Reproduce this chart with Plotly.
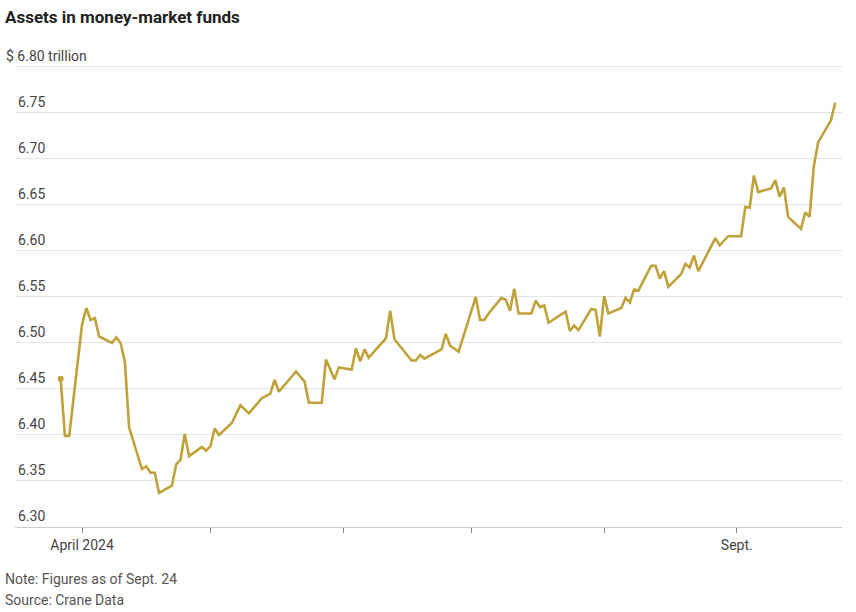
import plotly.graph_objects as go

dates = [
    "2024-03-27", "2024-03-28", "2024-03-29",
    "2024-04-01", "2024-04-02", "2024-04-03", "2024-04-04", "2024-04-05",
    "2024-04-08", "2024-04-09", "2024-04-10", "2024-04-11", "2024-04-12",
    "2024-04-15", "2024-04-16", "2024-04-17", "2024-04-18", "2024-04-19",
    "2024-04-22", "2024-04-23", "2024-04-24", "2024-04-25", "2024-04-26",
    "2024-04-29", "2024-04-30", "2024-05-01", "2024-05-02", "2024-05-03",
    "2024-05-06", "2024-05-08", "2024-05-10",
    "2024-05-13", "2024-05-15", "2024-05-16", "2024-05-17",
    "2024-05-21", "2024-05-23", "2024-05-24",
    "2024-05-27", "2024-05-28", "2024-05-30", "2024-05-31",
    "2024-06-03", "2024-06-04", "2024-06-05", "2024-06-06", "2024-06-07",
    "2024-06-11", "2024-06-12", "2024-06-13",
    "2024-06-17", "2024-06-18", "2024-06-19", "2024-06-20",
    "2024-06-24", "2024-06-25", "2024-06-26", "2024-06-28",
    "2024-07-02", "2024-07-03", "2024-07-04", "2024-07-05",
    "2024-07-08", "2024-07-09", "2024-07-10", "2024-07-11", "2024-07-12",
    "2024-07-15", "2024-07-16", "2024-07-17", "2024-07-18", "2024-07-19",
    "2024-07-23", "2024-07-24", "2024-07-25", "2024-07-26",
    "2024-07-29", "2024-07-30", "2024-07-31", "2024-08-01", "2024-08-02",
    "2024-08-05", "2024-08-06", "2024-08-07", "2024-08-08", "2024-08-09",
    "2024-08-12", "2024-08-13", "2024-08-14", "2024-08-15", "2024-08-16",
    "2024-08-19", "2024-08-20", "2024-08-21", "2024-08-22", "2024-08-23",
    "2024-08-27", "2024-08-28", "2024-08-30",
    "2024-09-02", "2024-09-03", "2024-09-04", "2024-09-05", "2024-09-06",
    "2024-09-09", "2024-09-10", "2024-09-11", "2024-09-12", "2024-09-13",
    "2024-09-16", "2024-09-17", "2024-09-18", "2024-09-19", "2024-09-20",
    "2024-09-23", "2024-09-24",
]

assets_trillion = [
    6.460, 6.398, 6.398,
    6.519, 6.537, 6.524, 6.526, 6.506,
    6.499, 6.505, 6.499, 6.479, 6.407,
    6.362, 6.365, 6.358, 6.358, 6.336,
    6.344, 6.367, 6.372, 6.400, 6.376,
    6.386, 6.382, 6.387, 6.406, 6.399,
    6.412, 6.4315, 6.4225,
    6.439, 6.444, 6.459, 6.446,
    6.468, 6.457, 6.434,
    6.434, 6.481, 6.4595, 6.4725,
    6.470, 6.493, 6.479, 6.492, 6.483,
    6.504, 6.534, 6.503,
    6.480, 6.480, 6.486, 6.482,
    6.492, 6.509, 6.496, 6.4895,
    6.549, 6.524, 6.524, 6.531,
    6.548, 6.546, 6.534, 6.558, 6.531,
    6.531, 6.545, 6.538, 6.540, 6.521,
    6.533, 6.512, 6.518, 6.513,
    6.536, 6.535, 6.506, 6.550, 6.531,
    6.537, 6.548, 6.543, 6.557, 6.556,
    6.583, 6.583, 6.569, 6.577, 6.560,
    6.574, 6.585, 6.581, 6.594, 6.577,
    6.613, 6.605, 6.615,
    6.615, 6.647, 6.646, 6.681, 6.663,
    6.667, 6.676, 6.658, 6.668, 6.636,
    6.623, 6.641, 6.636, 6.691, 6.717,
    6.741, 6.760,
]

y_tick_vals = [6.30, 6.35, 6.40, 6.45, 6.50, 6.55, 6.60, 6.65, 6.70, 6.75, 6.80]
y_tick_text = ["6.30", "6.35", "6.40", "6.45", "6.50", "6.55", "6.60", "6.65", "6.70", "6.75", ""]
y_top_label = "$ 6.80 trillion"

x_tick_vals = ["2024-04-01", "2024-05-01", "2024-06-01", "2024-07-01", "2024-08-01", "2024-09-01"]
x_tick_text = ["April 2024", "", "", "", "", "Sept."]

note_text = "Note: Figures as of Sept. 24"
source_text = "Source: Crane Data"

LINE = "#BFA23A"
FONT = "Roboto, sans-serif"

fig = go.Figure()
fig.add_trace(go.Scatter(
    x=dates, y=assets_trillion, mode="lines",
    line=dict(color=LINE, width=2.6), hoverinfo="skip", showlegend=False,
))
fig.add_trace(go.Scatter(
    x=dates[:1], y=assets_trillion[:1], mode="markers",
    marker=dict(color=LINE, size=6), hoverinfo="skip", showlegend=False,
))

fig.update_layout(
    width=856, height=612,
    margin=dict(l=15, r=14, t=43, b=85),
    paper_bgcolor="white", plot_bgcolor="white",
    font=dict(family=FONT, size=14, color="#444"),
    title=dict(
        text="<b>Assets in money-market funds</b>",
        x=0, xref="paper", xanchor="left",
        y=1, yref="container", yanchor="top",
        pad=dict(t=11, l=-10),
        font=dict(family=FONT, size=17, color="#222"),
    ),
    xaxis=dict(
        type="date",
        range=["2024-03-16 08:00", "2024-09-25 14:00"],
        tickmode="array", tickvals=x_tick_vals, ticktext=x_tick_text,
        ticks="outside", ticklen=5, tickcolor="#888", tickwidth=1,
        showgrid=False, showline=True, linecolor="#cccccc", linewidth=1,
        zeroline=False,
        tickfont=dict(family=FONT, size=14, color="#444"),
    ),
    yaxis=dict(
        range=[6.299, 6.825],
        tickmode="array", tickvals=y_tick_vals, ticktext=y_tick_text,
        ticklabelposition="inside top", ticks="",
        showgrid=True, gridcolor="#e3e3e3", gridwidth=1,
        zeroline=False, showline=False,
        tickfont=dict(family=FONT, size=14, color="#444"),
    ),
)

fig.add_annotation(
    text=y_top_label,
    xref="paper", yref="y", x=0, y=y_tick_vals[-1],
    xanchor="left", yanchor="bottom", xshift=-11, yshift=0,
    showarrow=False, font=dict(family=FONT, size=14, color="#444"),
)
fig.add_annotation(
    text=note_text,
    xref="paper", yref="paper", x=0, y=0, xanchor="left", yanchor="middle",
    xshift=-12, yshift=-52, align="left", showarrow=False,
    font=dict(family=FONT, size=14, color="#555"),
)
fig.add_annotation(
    text=source_text,
    xref="paper", yref="paper", x=0, y=0, xanchor="left", yanchor="middle",
    xshift=-12, yshift=-73, align="left", showarrow=False,
    font=dict(family=FONT, size=14, color="#555"),
)

fig.write_html("out.html")
